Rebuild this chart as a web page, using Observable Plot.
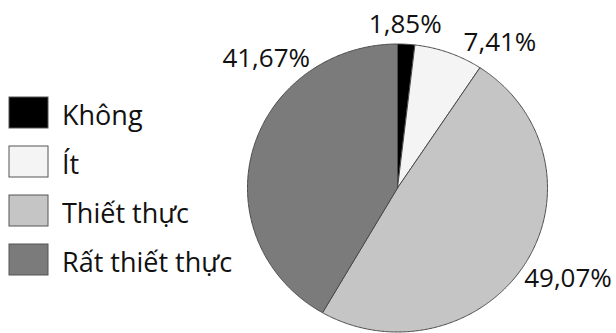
<!DOCTYPE html>
<html>
<head>
<meta charset="utf-8">
<script src="https://cdn.jsdelivr.net/npm/d3@7"></script>
<script src="https://cdn.jsdelivr.net/npm/@observablehq/plot@0.6"></script>
<style>
  html, body { margin: 0; padding: 0; background: #fff; }
  #wrap { position: relative; width: 616px; height: 333px; overflow: hidden; font-family: "Open Sans", sans-serif; }
  #pie { position: absolute; left: 0; top: 0; }
  #legend { position: absolute; left: 9px; top: 88px; width: 300px; }
  #legend * { font-family: "Open Sans", sans-serif !important; color: #111; }
  #legend [class$="-swatch"] { display: flex; align-items: center; height: 49px; padding: 0 !important; margin: 0 !important; }
  #legend [class$="-swatch"] > svg { margin-right: 14px !important; overflow: visible; }
  #legend [class$="-swatch"] > :not(svg) { position: relative; top: 2px; }
  #legend [class$="-swatch"] > svg rect { stroke: #555; stroke-width: 1px; }
  #legend [class*="swatches"] { font-size: 27px !important; margin: 0 !important; }
</style>
</head>
<body>
<div id="wrap">
  <div id="pie"></div>
  <div id="legend"></div>
</div>
<script>
// ---- data ----
const categories = ["Không", "Ít", "Thiết thực", "Rất thiết thực"];
const values = [1.85, 7.41, 49.07, 41.67];

// ---- style / layout ----
const colors = ["#000000", "#f4f4f4", "#c5c5c5", "#7b7b7b"];
// label nudges (pixels) from the radial anchor at 1.12 × radius
const labelNudge = [[-2, -2], [45, 6], [27.5, 6], [31, -88]];
const W = 616, H = 333;
const cx = 397, cy = 187.5, rx = 150, ry = 144;

const rows = categories.map((c, i) => ({cat: c, value: values[i]}));
const arcs = d3.pie().sort(null).value(d => d.value)(rows);

// polygon vertices of each slice, in unit (data) coordinates
const pts = [];
for (const a of arcs) {
  const n = Math.max(2, Math.ceil((a.endAngle - a.startAngle) / (Math.PI / 360)));
  pts.push({cat: a.data.cat, x: 0, y: 0});
  for (let i = 0; i <= n; i++) {
    const t = a.startAngle + (a.endAngle - a.startAngle) * i / n;
    pts.push({cat: a.data.cat, x: Math.sin(t), y: Math.cos(t)});
  }
  pts.push({cat: a.data.cat, x: 0, y: 0});
}

const fmt = v => d3.format(".2f")(v).replace(".", ",") + "%";
const labels = arcs.map((a, i) => {
  const m = (a.startAngle + a.endAngle) / 2;
  return {
    text: fmt(a.data.value),
    x: 1.12 * Math.sin(m) + labelNudge[i][0] / rx,
    y: 1.12 * Math.cos(m) - labelNudge[i][1] / ry
  };
});

const chart = Plot.plot({
  width: W,
  height: H,
  marginLeft: cx - rx,
  marginRight: W - (cx + rx),
  marginTop: cy - ry,
  marginBottom: H - (cy + ry),
  style: {fontFamily: "Open Sans, sans-serif", background: "transparent", overflow: "visible"},
  x: {domain: [-1, 1], axis: null},
  y: {domain: [-1, 1], axis: null},
  color: {domain: categories, range: colors},
  marks: [
    Plot.line(pts, {x: "x", y: "y", z: "cat", fill: "cat", stroke: "#4a4a4a", strokeWidth: 1, curve: "linear"}),
    Plot.text(labels, {x: "x", y: "y", text: "text", fontSize: 26, fill: "#111", textAnchor: "middle"})
  ]
});
document.getElementById("pie").appendChild(chart);

const legend = chart.legend("color", {legend: "swatches", columns: 1, swatchWidth: 39, swatchHeight: 31});
document.getElementById("legend").appendChild(legend);
</script>
</body>
</html>
